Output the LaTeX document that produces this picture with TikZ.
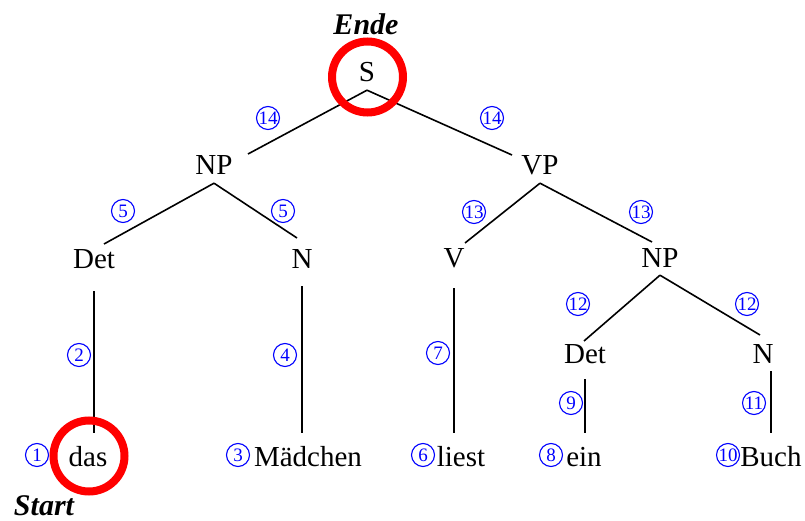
\documentclass[tikz,border=0pt]{standalone}
\usepackage{fontspec}
\setmainfont{Liberation Serif}
\usetikzlibrary{positioning}

\begin{document}
\begin{tikzpicture}[
  x=1pt, y=1pt,
  font=\fontsize{29}{34}\selectfont,
  cat/.style={anchor=base, inner xsep=2pt, inner ysep=8pt, text depth=0pt},
  word/.style={anchor=base, inner xsep=2pt, inner ysep=13pt, text height=20pt, text depth=0pt},
  num/.style={circle, draw=blue, text=blue, line width=1.1pt, minimum size=23pt, inner sep=0pt, font=\fontsize{19}{19}\selectfont},
  branch/.style={line width=1.6pt},
  ring/.style={circle, draw=red, line width=8pt, minimum size=71pt, inner sep=0pt},
  tag/.style={anchor=base, font=\fontsize{30}{36}\selectfont\bfseries\itshape}
]
\useasboundingbox (0,0) rectangle (805,520);

% categories
\node[cat] (s) at (367,438) {S};
\node[cat] (np1) at (214,345) {NP};
\node[cat] (vp) at (540,345) {VP};
\node[cat] (det1) at (94,252) {Det};
\node[cat] (n1) at (302,252) {N};
\node[cat] (v) at (454,253) {V};
\node[cat] (np2) at (660,253) {NP};
\node[cat] (det2) at (585,157) {Det};
\node[cat] (n2) at (763,157) {N};

% words
\node[word] (das) at (88,54) {das};
\node[word] (maedchen) at (308,54) {Mädchen};
\node[word] (liest) at (461,54) {liest};
\node[word] (ein) at (584,54) {ein};
\node[word] (buch) at (771,54) {Buch};

% branches
\draw[branch] (s.south) -- ([xshift=34pt,yshift=21pt]np1.base);
\draw[branch] (s.south) -- ([xshift=-28pt,yshift=20pt]vp.base);
\draw[branch] (np1.south) -- ([xshift=10pt,yshift=24pt]det1.base);
\draw[branch] (np1.south) -- ([xshift=-5pt,yshift=30pt]n1.base);
\draw[branch] (vp.south) -- ([xshift=11pt,yshift=24pt]v.base);
\draw[branch] (vp.south) -- ([xshift=-8pt,yshift=25pt]np2.base);
\draw[branch] (np2.south) -- ([xshift=-1pt,yshift=22pt]det2.base);
\draw[branch] (np2.south) -- ([xshift=-3pt,yshift=28pt]n2.base);
\draw[branch, shorten <=15pt] (det1.south) -- (det1.south |- das.north);
\draw[branch, shorten <=10pt] (n1.south) -- (n1.south |- maedchen.north);
\draw[branch, shorten <=13pt] (v.south) -- (v.south |- liest.north);
\draw[branch, shorten <=8pt] (det2.south) -- (det2.south |- ein.north);
\draw[branch] (buch.north |- n2.south) -- (buch.north);

% order of the steps
\node[num] (c1) at (37,65) {1};
\node[num] (c2) at (79,165) {2};
\node[num] (c3) at (238,65) {3};
\node[num] (c4) at (285,165) {4};
\node[num] (c5a) at (123,309) {5};
\node[num] (c5b) at (283,309) {5};
\node[num] (c6) at (423,65) {6};
\node[num] (c7) at (438,167) {7};
\node[num] (c8) at (551,65) {8};
\node[num] (c9) at (571,117) {9};
\node[num] (c10) at (728,65) {10};
\node[num] (c11) at (754,117) {11};
\node[num] (c12a) at (578,216) {12};
\node[num] (c12b) at (747,216) {12};
\node[num] (c13a) at (474,308) {13};
\node[num] (c13b) at (641,308) {13};
\node[num] (c14a) at (268,402) {14};
\node[num] (c14b) at (492,402) {14};

% start and end
\node[ring] (sring) at (367.5,443) {};
\node[ring] (dasring) at (89,64) {};
\node[tag] (ende) at (366,485) {Ende};
\node[tag] (start) at (44,5) {Start};
\end{tikzpicture}
\end{document}
